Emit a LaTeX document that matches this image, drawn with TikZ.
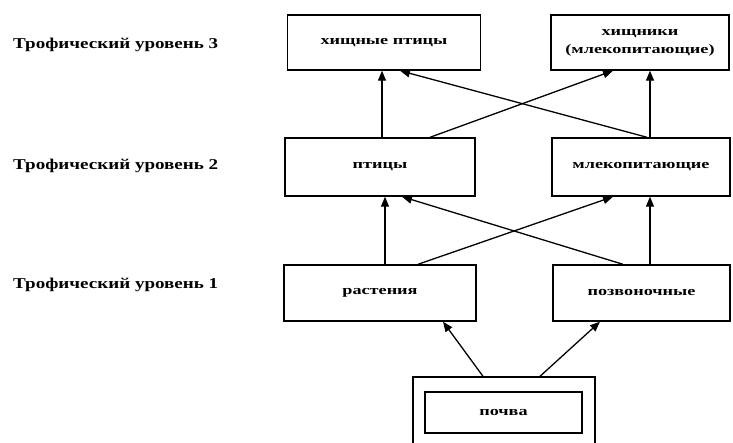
\documentclass[tikz,border=0pt]{standalone}
\usepackage{fontspec}
\setmainfont{Liberation Serif}
\newfontfamily\labfont[FakeStretch=1.27]{Liberation Serif}
\newfontfamily\boxfont[FakeStretch=1.4]{Liberation Serif}
\usetikzlibrary{arrows.meta}
\begin{document}
\begin{tikzpicture}[x=1pt,y=-1pt,
  box/.style={draw,line width=1.4pt,rectangle,inner sep=0pt,align=center,
    font=\boxfont\bfseries\fontsize{13}{18}\selectfont},
  lvl/.style={anchor=west,inner sep=0pt,font=\labfont\bfseries\fontsize{15}{17}\selectfont},
  arr/.style={line width=1.3pt,-{Triangle[length=10pt,width=8pt]}}]
\useasboundingbox (0,0) rectangle (733,443);
\node[lvl] (t3) at (13,45) {Трофический уровень 3};
\node[lvl] (t2) at (13,166) {Трофический уровень 2};
\node[lvl] (t1) at (13,285) {Трофический уровень 1};
\node[box,minimum width=193pt,minimum height=55pt] (hp) at (384,42.5) {хищные птицы};
\node[box,minimum width=178pt,minimum height=55pt] (hm) at (640,42.5) {хищники\\(млекопитающие)};
\node[box,minimum width=190pt,minimum height=58pt] (pt) at (380,167) {птицы};
\node[box,minimum width=178pt,minimum height=58pt] (ml) at (641,167) {млекопитающие};
\node[box,minimum width=192pt,minimum height=56pt] (ra) at (380,293) {растения};
\node[box,minimum width=177pt,minimum height=56pt] (po) at (641.5,293) {позвоночные};
\node[draw,line width=1.4pt,minimum width=182pt,minimum height=72pt,inner sep=0pt] (outer) at (504,413) {};
\node[box,minimum width=157pt,minimum height=41pt] (pv) at (503.5,412.5) {почва};
% level 2 -> level 3
\draw[arr] ([xshift=2pt]pt.north) -- ([xshift=-2pt]hp.south);
\draw[arr] ([xshift=6pt]ml.north) -- ([xshift=16pt]hp.south);
\draw[arr] ([xshift=50pt]pt.north) -- ([xshift=-27pt]hm.south);
\draw[arr] ([xshift=9pt]ml.north) -- ([xshift=10pt]hm.south);
% level 1 -> level 2
\draw[arr] ([xshift=5pt]ra.north) -- ([xshift=5pt]pt.south);
\draw[arr] ([xshift=-18.5pt]po.north) -- ([xshift=22pt]pt.south);
\draw[arr] ([xshift=38pt]ra.north) -- ([xshift=-28pt]ml.south);
\draw[arr] ([xshift=8.5pt]po.north) -- ([xshift=9pt]ml.south);
% soil -> level 1
\draw[arr] ([xshift=-21pt]outer.north) -- ([xshift=63pt]ra.south);
\draw[arr] ([xshift=36pt]outer.north) -- ([xshift=-41.5pt]po.south);
\end{tikzpicture}
\end{document}
